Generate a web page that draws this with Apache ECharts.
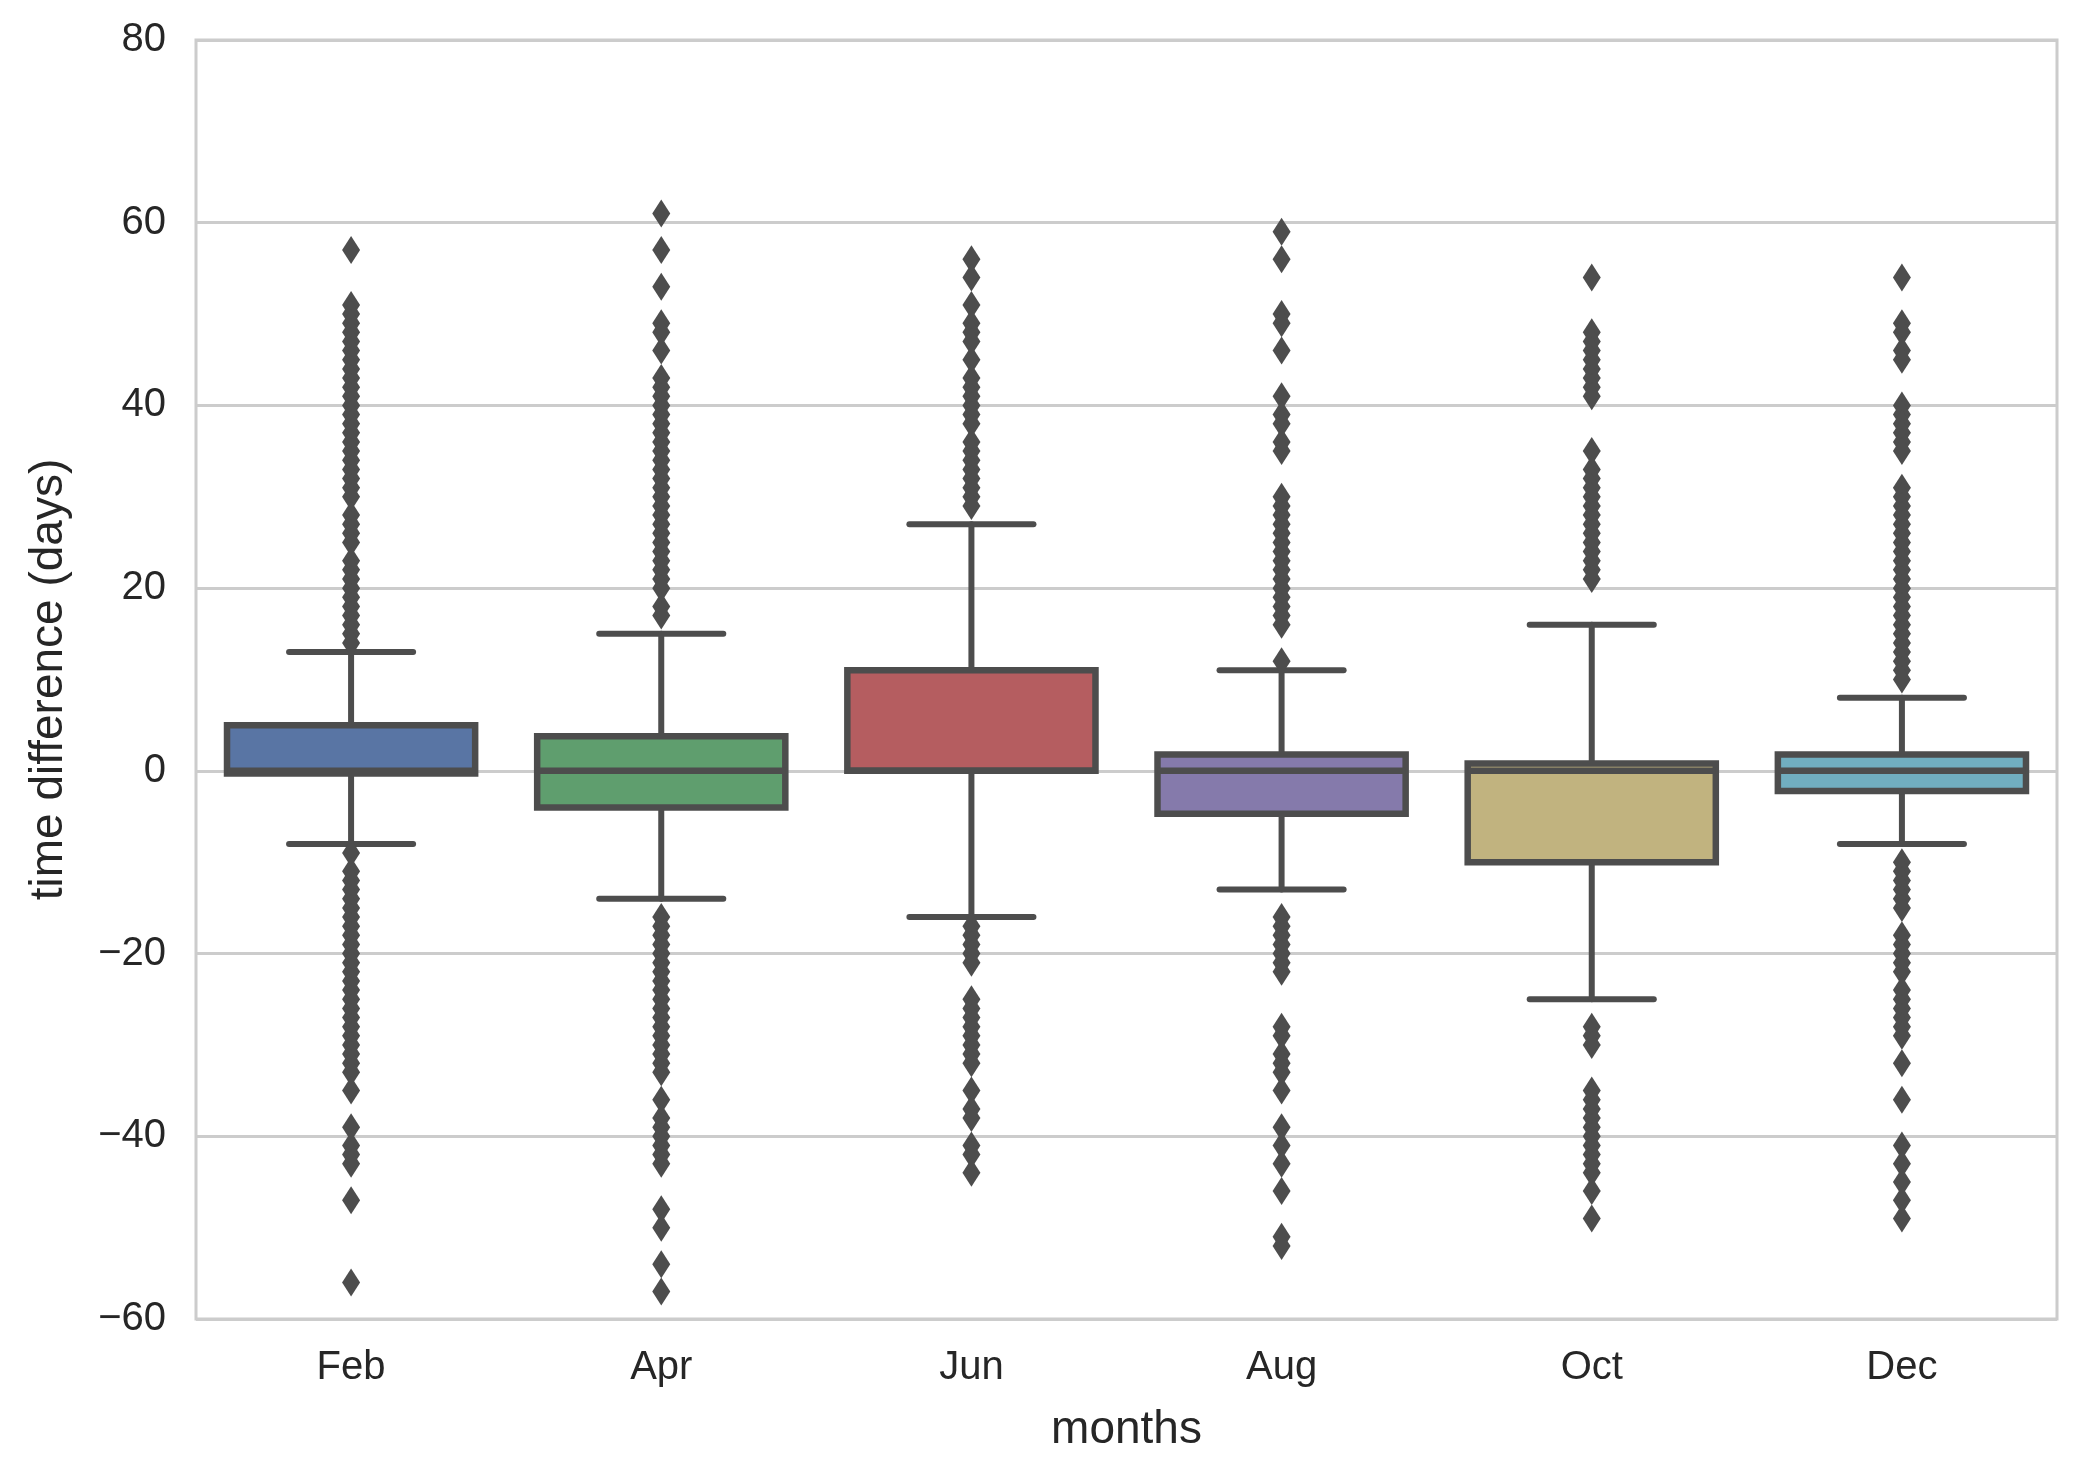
<!DOCTYPE html>
<html>
<head>
<meta charset="utf-8">
<script src="https://cdn.jsdelivr.net/npm/echarts@6/dist/echarts.min.js"></script>
<style>
  html, body { margin: 0; padding: 0; background: #fff; }
  #chart { width: 2095px; height: 1471px; }
</style>
</head>
<body>
<div id="chart"></div>
<script>
// box statistics per month
var months = ['Feb', 'Apr', 'Jun', 'Aug', 'Oct', 'Dec'];
var lowerWhisker = [-8, -14, -16, -13, -25, -8];
var q1 = [-0.3, -4, 0, -4.7, -10, -2.2];
var median = [0, 0, 0, 0, 0, 0];
var q3 = [5, 3.8, 11, 1.8, 0.8, 1.8];
var upperWhisker = [13, 15, 27, 11, 16, 8];

// outliers
var febOutliers = [57, 51, 50, 49, 48, 47, 46, 45, 44, 43, 42, 41, 40, 39, 38, 37, 36, 35, 34, 33, 32, 31, 30,
  28, 27, 26, 25, 23, 22, 21, 20, 19, 18, 17, 16, 15, 14,
  -9, -11, -12, -13, -14, -15, -16, -17, -18, -19, -20, -21, -22, -23, -24, -25, -26, -27, -28, -29, -30, -31, -32, -33,
  -35, -39, -41, -42, -43, -47, -56];
var aprOutliers = [61, 57, 53, 49, 48, 46, 43, 42, 41, 40, 39, 38, 37, 36, 35, 34, 33, 32, 31, 30, 29, 28, 27, 26, 25,
  24, 23, 22, 21, 20, 18, 17,
  -16, -17, -18, -19, -20, -21, -22, -23, -24, -25, -26, -27, -28, -29, -30, -31, -32, -33,
  -36, -38, -39, -40, -41, -42, -43, -48, -50, -54, -57];
var junOutliers = [56, 54, 51, 49, 48, 47, 45, 43, 42, 41, 40, 39, 38, 36, 35, 34, 33, 32, 31, 30, 29,
  -17, -18, -19, -20, -21, -25, -26, -27, -28, -29, -30, -31, -32, -35, -37, -38, -41, -42, -44];
var augOutliers = [59, 56, 50, 49, 46, 41, 39, 38, 36, 35, 30, 29, 28, 27, 26, 25, 24, 23, 22, 21, 20, 19, 18, 17, 16, 12,
  -16, -17, -18, -19, -20, -21, -22, -28, -29, -31, -32, -33, -35, -39, -41, -43, -46, -51, -52];
var octOutliers = [54, 48, 47, 46, 45, 44, 43, 42, 41, 35, 33, 32, 31, 30, 29, 28, 27, 26, 25, 24, 23, 22, 21,
  -28, -29, -30, -35, -36, -37, -38, -39, -40, -41, -42, -43, -44, -46, -49];
var decOutliers = [54, 49, 48, 46, 45, 40, 39, 38, 37, 36, 35, 31, 30, 29, 28, 27, 26, 25, 24, 23, 22, 21, 20, 19, 18,
  17, 16, 15, 14, 13, 12, 11, 10,
  -10, -11, -12, -13, -14, -15, -18, -19, -20, -21, -22, -24, -25, -26, -27, -28, -29, -32, -36, -41, -43, -45, -47, -49];

var yTicks = [-60, -40, -20, 0, 20, 40, 60, 80];

var boxColors = ['#5975a4', '#5f9e6e', '#b55d60', '#857aab', '#c1b37f', '#71aec0'];
var lineColor = '#4d4d4d';
var font = '"Liberation Sans", Arial, sans-serif';

var boxData = months.map(function (m, i) {
  return [i, lowerWhisker[i], q1[i], median[i], q3[i], upperWhisker[i]];
});

var outlierData = [];
[febOutliers, aprOutliers, junOutliers, augOutliers, octOutliers, decOutliers].forEach(function (list, i) {
  list.forEach(function (v) { outlierData.push([i, v]); });
});

var myChart = echarts.init(document.getElementById('chart'));

var option = {
  animation: false,
  backgroundColor: '#ffffff',
  grid: {
    left: 196, right: 38, top: 40, bottom: 152,
    show: true, borderColor: '#cccccc', borderWidth: 3
  },
  xAxis: {
    type: 'category',
    data: months,
    boundaryGap: true,
    name: 'months',
    nameLocation: 'middle',
    nameGap: 88,
    nameTextStyle: { fontFamily: font, fontSize: 46, color: '#262626' },
    axisLine: { show: false },
    axisTick: { show: false },
    axisLabel: { fontFamily: font, fontSize: 40, color: '#262626', margin: 29 },
    splitLine: { show: false }
  },
  yAxis: {
    type: 'value',
    min: yTicks[0],
    max: yTicks[yTicks.length - 1],
    interval: 20,
    name: 'time difference (days)',
    nameLocation: 'middle',
    nameGap: 124,
    nameTextStyle: { fontFamily: font, fontSize: 46, color: '#262626' },
    axisLine: { show: false },
    axisTick: { show: false },
    axisLabel: {
      fontFamily: font, fontSize: 40, color: '#262626', margin: 30,
      formatter: function (v) { return String(v).replace('-', '\u2212'); }
    },
    splitLine: { lineStyle: { color: '#cccccc', width: 3 } }
  },
  series: [{
    type: 'custom',
    z: 2,
    encode: { x: 0, y: [1, 2, 3, 4, 5] },
    data: boxData,
    renderItem: function (params, api) {
      var idx = api.value(0);
      var band = api.size([1, 0])[0];
      var halfBox = band * 0.4;
      var halfCap = band * 0.2;
      var pLo = api.coord([idx, api.value(1)]);
      var pQ1 = api.coord([idx, api.value(2)]);
      var pMed = api.coord([idx, api.value(3)]);
      var pQ3 = api.coord([idx, api.value(4)]);
      var pHi = api.coord([idx, api.value(5)]);
      var x = pLo[0];
      var lineStyle = { stroke: lineColor, lineWidth: 6, lineCap: 'round' };
      return {
        type: 'group',
        children: [
          { type: 'line', shape: { x1: x, y1: pQ1[1], x2: x, y2: pLo[1] }, style: lineStyle },
          { type: 'line', shape: { x1: x, y1: pQ3[1], x2: x, y2: pHi[1] }, style: lineStyle },
          { type: 'line', shape: { x1: x - halfCap, y1: pLo[1], x2: x + halfCap, y2: pLo[1] }, style: lineStyle },
          { type: 'line', shape: { x1: x - halfCap, y1: pHi[1], x2: x + halfCap, y2: pHi[1] }, style: lineStyle },
          {
            type: 'rect',
            shape: { x: x - halfBox, y: pQ3[1], width: halfBox * 2, height: pQ1[1] - pQ3[1] },
            style: { fill: boxColors[params.dataIndex], stroke: lineColor, lineWidth: 6.5 }
          },
          { type: 'line', shape: { x1: x - halfBox, y1: pMed[1], x2: x + halfBox, y2: pMed[1] },
            style: { stroke: lineColor, lineWidth: 6.5 } }
        ]
      };
    }
  }, {
    type: 'scatter',
    z: 3,
    symbol: 'diamond',
    symbolSize: [18, 28],
    itemStyle: { color: lineColor, opacity: 1 },
    data: outlierData
  }]
};

myChart.setOption(option);
</script>
</body>
</html>
